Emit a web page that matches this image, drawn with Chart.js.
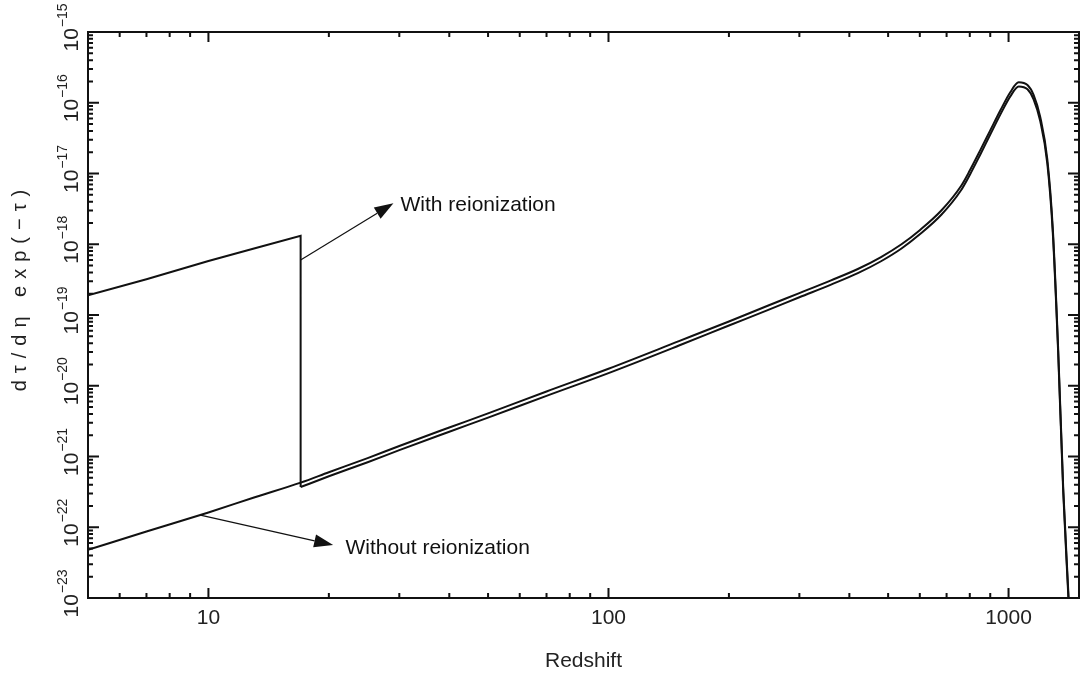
<!DOCTYPE html>
<html>
<head>
<meta charset="utf-8">
<script src="https://cdn.jsdelivr.net/npm/chart.js@4.4.1/dist/chart.umd.min.js"></script>
<style>
  html, body { margin: 0; padding: 0; background: #fff; }
  canvas { display: block; }
</style>
</head>
<body>
<canvas id="chart" width="1083" height="677"></canvas>
<script>
// visibility function, no reionization
const redshiftNoReion = [5, 7, 10, 13, 17, 20, 25, 30, 40, 50, 70, 100, 150, 200, 250, 300, 360, 420, 480, 540,
    600, 680, 760, 800, 850, 900, 955, 1010, 1060, 1115, 1155, 1200, 1250, 1290, 1330, 1370, 1413, 1450];
const visibilityNoReion = [4.79e-23, 8.7e-23, 1.62e-22, 2.63e-22, 4.27e-22, 6.0e-22, 9.5e-22, 1.41e-21, 2.57e-21, 4.07e-21,
    8.3e-21, 1.74e-20, 4.27e-20, 8.1e-20, 1.35e-19, 2.04e-19, 3.09e-19, 4.47e-19, 6.6e-19, 1.0e-18,
    1.58e-18, 3.02e-18, 6.6e-18, 1.1e-17, 2.14e-17, 4.07e-17, 7.9e-17, 1.41e-16, 1.95e-16, 1.78e-16,
    1.29e-16, 6.3e-17, 1.58e-17, 1.66e-18, 3.5e-20, 3.5e-22, 1.0e-23, 4e-25];

// with reionization: straight part before the jump at z ~ 17, then the drop
const redshiftReionLow = [5, 7, 10, 13, 17, 17];
const visibilityReionLow = [1.9e-19, 3.2e-19, 5.8e-19, 8.7e-19, 1.32e-18, 3.7e-22];

// with reionization: from the bottom of the jump up to recombination
const redshiftReionHigh = [17, 20, 25, 30, 40, 50, 70, 100, 150, 200, 250, 300, 360, 420, 480, 540,
    600, 680, 760, 800, 850, 900, 955, 1010, 1060, 1115, 1155, 1200, 1250, 1290, 1330, 1370, 1413, 1450];
const visibilityReionHigh = [3.7e-22, 5.25e-22, 8.3e-22, 1.23e-21, 2.24e-21, 3.55e-21, 7.2e-21, 1.51e-20, 3.7e-20, 7.1e-20,
    1.17e-19, 1.78e-19, 2.69e-19, 3.9e-19, 5.75e-19, 8.7e-19, 1.38e-18, 2.63e-18, 5.75e-18, 9.55e-18,
    1.86e-17, 3.55e-17, 6.9e-17, 1.23e-16, 1.7e-16, 1.55e-16, 1.12e-16, 5.5e-17, 1.38e-17, 1.45e-18,
    3.1e-20, 3.1e-22, 8.7e-24, 3.5e-25];

const xTickValues = [10, 100, 1000];
const yTickExponents = [-23, -22, -21, -20, -19, -18, -17, -16, -15];

const labelNotes = [
    {text: 'With reionization', from: [17, 6.0e-19], to: [29, 3.8e-18], at: [30.2, 2.95e-18]},
    {text: 'Without reionization', from: [9.55, 1.48e-22], to: [20.5, 5.6e-23], at: [22.0, 4.2e-23]},
];

const FONT = "'Liberation Sans', Arial, sans-serif";
const INK = '#111';

const toPoints = (xs, ys) => xs.map((x, i) => ({x, y: ys[i]}));

const framePlugin = {
    id: 'frame',
    afterDatasetsDraw(chart) {
        const {ctx, chartArea: a, scales: {x, y}} = chart;
        ctx.save();
        ctx.strokeStyle = INK;
        ctx.lineWidth = 2;
        ctx.strokeRect(a.left, a.top, a.right - a.left, a.bottom - a.top);

        // x ticks, bottom and top, pointing inward
        ctx.beginPath();
        for (let d = 0; d <= 3; d++) {
            for (let m = 1; m <= 9; m++) {
                const v = m * Math.pow(10, d);
                if (v < x.min || v > x.max) continue;
                const px = x.getPixelForValue(v);
                const len = m === 1 ? 10 : 5;
                ctx.moveTo(px, a.bottom); ctx.lineTo(px, a.bottom - len);
                ctx.moveTo(px, a.top); ctx.lineTo(px, a.top + len);
            }
        }
        // y ticks, left and right
        for (let e = -23; e <= -15; e++) {
            for (let m = 1; m <= 9; m++) {
                if (e === -15 && m > 1) break;
                const py = y.getPixelForValue(m * Math.pow(10, e));
                const len = m === 1 ? 11 : 5;
                ctx.moveTo(a.left, py); ctx.lineTo(a.left + len, py);
                ctx.moveTo(a.right, py); ctx.lineTo(a.right - len, py);
            }
        }
        ctx.stroke();

        // y tick labels 10^n, rotated to read upwards
        ctx.fillStyle = '#222';
        ctx.textBaseline = 'alphabetic';
        ctx.textAlign = 'left';
        for (const e of yTickExponents) {
            const py = y.getPixelForValue(Math.pow(10, e));
            ctx.save();
            ctx.translate(a.left - 10, py);
            ctx.rotate(-Math.PI / 2);
            ctx.font = `21px ${FONT}`;
            const base = '10';
            const wb = ctx.measureText(base).width;
            ctx.font = `14px ${FONT}`;
            const sup = '\u2212' + Math.abs(e);
            const ws = ctx.measureText(sup).width;
            const start = -(wb + ws) / 2 + 4;
            ctx.font = `21px ${FONT}`;
            ctx.fillText(base, start, 0);
            ctx.font = `14px ${FONT}`;
            ctx.fillText(sup, start + wb + 1, -11);
            ctx.restore();
        }

        // y axis title
        ctx.save();
        ctx.translate(26, 287);
        ctx.rotate(-Math.PI / 2);
        ctx.font = `20px ${FONT}`;
        ctx.letterSpacing = '7px';
        ctx.textAlign = 'center';
        ctx.fillText('d\u03C4/d\u03B7 exp(\u2212\u03C4)', 0, 0);
        ctx.restore();

        // annotation arrows
        for (const n of labelNotes) {
            const x0 = x.getPixelForValue(n.from[0]), y0 = y.getPixelForValue(n.from[1]);
            const x1 = x.getPixelForValue(n.to[0]), y1 = y.getPixelForValue(n.to[1]);
            const ang = Math.atan2(y1 - y0, x1 - x0);
            const head = 19, half = 6.5;
            const bx = x1 - head * Math.cos(ang), by = y1 - head * Math.sin(ang);
            ctx.lineWidth = 1.2;
            ctx.beginPath();
            ctx.moveTo(x0, y0); ctx.lineTo(bx, by);
            ctx.stroke();
            ctx.fillStyle = INK;
            ctx.beginPath();
            ctx.moveTo(x1, y1);
            ctx.lineTo(bx + half * Math.sin(ang), by - half * Math.cos(ang));
            ctx.lineTo(bx - half * Math.sin(ang), by + half * Math.cos(ang));
            ctx.closePath();
            ctx.fill();
            ctx.font = `21px ${FONT}`;
            ctx.textAlign = 'left';
            ctx.fillText(n.text, x.getPixelForValue(n.at[0]), y.getPixelForValue(n.at[1]));
        }
        ctx.restore();
    }
};

const lineStyle = {
    borderColor: INK,
    borderWidth: 2,
    pointRadius: 0,
    cubicInterpolationMode: 'monotone',
    fill: false,
};

new Chart(document.getElementById('chart'), {
    type: 'line',
    data: {
        datasets: [
            {label: 'Without reionization', data: toPoints(redshiftNoReion, visibilityNoReion), ...lineStyle},
            {label: 'With reionization', data: toPoints(redshiftReionLow, visibilityReionLow), ...lineStyle,
                cubicInterpolationMode: 'default', tension: 0},
            {label: 'With reionization (z > 17)', data: toPoints(redshiftReionHigh, visibilityReionHigh), ...lineStyle},
        ]
    },
    options: {
        responsive: false,
        devicePixelRatio: 1,
        animation: false,
        layout: {padding: {left: 88, right: 4, top: 32, bottom: 0}},
        plugins: {legend: {display: false}, tooltip: {enabled: false}},
        scales: {
            x: {
                type: 'logarithmic',
                min: 5,
                max: 1500,
                afterBuildTicks: scale => {
                    scale.ticks = xTickValues.map(v => ({value: v, major: true}));
                },
                grid: {display: false},
                border: {display: false},
                ticks: {
                    autoSkip: false,
                    maxRotation: 0,
                    padding: 0,
                    color: '#222',
                    font: {family: FONT, size: 21},
                    callback: v => String(v),
                },
                title: {
                    display: true,
                    text: 'Redshift',
                    color: '#222',
                    font: {family: FONT, size: 21},
                    padding: {top: 17.2, bottom: 3.4},
                },
            },
            y: {
                type: 'logarithmic',
                display: false,
                min: 1e-23,
                max: 1e-15,
            },
        },
    },
    plugins: [framePlugin],
});
</script>
</body>
</html>
